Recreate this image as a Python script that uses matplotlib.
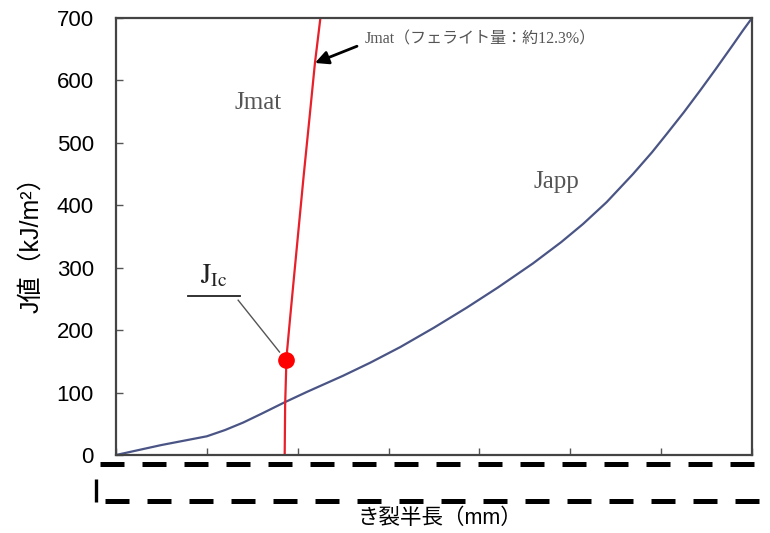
import matplotlib
matplotlib.use("Agg")
import matplotlib.pyplot as plt
from matplotlib.lines import Line2D

# Japp curve (crack half length [mm] vs J [kJ/m2])
a_app = [0, 0.25, 0.5, 0.75, 1.0, 1.2, 1.4, 1.6, 1.85, 2.1, 2.5, 2.8, 3.13, 3.5,
         3.86, 4.2, 4.59, 4.9, 5.14, 5.4, 5.69, 5.9, 6.06, 6.25, 6.43, 6.6,
         6.79, 6.9, 7.0]
j_app = [0, 8, 16, 23, 30, 40, 52, 66, 84, 101, 127, 148, 173, 204,
         236, 268, 307, 341, 370, 405, 450, 485, 514, 549, 584, 618,
         657, 680, 700]

# Jmat curve (ferrite content approx. 12.3%)
a_mat = [1.857, 1.862, 1.877, 1.917, 1.960, 2.015, 2.065, 2.130, 2.19, 2.25]
j_mat = [0, 80, 157, 220, 286, 370, 446, 540, 628, 700]

# JIc point
a_jic = 1.87
j_jic = 153

y_ticks = [0, 100, 200, 300, 400, 500, 600, 700]

plt.rcParams['mathtext.fontset'] = 'stix'
sans = ['Liberation Sans', 'Noto Sans CJK JP']
serif = ['Liberation Serif', 'Noto Sans CJK JP']

fig = plt.figure(figsize=(7.7, 5.33), dpi=100)
ax = fig.add_axes([0.1506, 0.1463, 0.826, 0.8199])

ax.plot(a_app, j_app, color='#4a5585', lw=1.6)
ax.plot(a_mat, j_mat, color='#e8202a', lw=1.6)
ax.plot([a_jic], [j_jic], 'o', color='#ff0000', ms=11, zorder=5)

ax.set_xlim(0, 7)
ax.set_ylim(0, 700)
ax.set_xticks(range(0, 8))
ax.set_xticklabels([])
ax.set_yticks(y_ticks)
ax.set_yticklabels([str(v) for v in y_ticks], family=sans, fontsize=16)
ax.tick_params(direction='in', length=5, width=1, color='#555555', pad=16)
for s in ax.spines.values():
    s.set_color('#444444')
    s.set_linewidth(1.6)

ax.set_ylabel('J値（kJ/m²）', family=sans, fontsize=18)
ax.yaxis.set_label_coords(-0.115, 0.495)
ax.set_xlabel('き裂半長（mm）', family=sans, fontsize=15.5)
ax.xaxis.set_label_coords(0.51, -0.122)

# curve labels
ax.text(1.56, 564, 'Jmat', family=serif, fontsize=18, color='#555555',
        ha='center', va='center')
ax.text(4.85, 438, 'Japp', family=serif, fontsize=18, color='#555555',
        ha='center', va='center')
ax.annotate('Jmat（フェライト量：約12.3%）', xy=(2.19, 628), xytext=(2.74, 665),
            family=serif, fontsize=11.5, color='#555555', va='center', ha='left',
            arrowprops=dict(arrowstyle='-|>', color='black', lw=2,
                            mutation_scale=20, shrinkA=4, shrinkB=0,
                            relpos=(0, 0.3)))

# JIc label with underline and leader
ax.text(1.08, 265, r'$\mathrm{J}_{\mathrm{Ic}}$', fontsize=20, color='#222222',
        ha='center', va='bottom')
ax.plot([0.79, 1.365], [254, 254], color='#222222', lw=1.3)
ax.plot([1.345, 1.8], [248, 165], color='#555555', lw=1)

# masking dashed lines below the axis
fig.add_artist(Line2D([100 / 770, 1.0], [1 - 464 / 533] * 2, color='black',
                      lw=3.6, linestyle=(0, (4.8, 3.6)), solid_capstyle='butt',
                      dash_capstyle='butt'))
fig.add_artist(Line2D([105 / 770, 1.0], [1 - 501 / 533] * 2, color='black',
                      lw=3.6, linestyle=(0, (4.8, 3.6)), solid_capstyle='butt',
                      dash_capstyle='butt'))
fig.add_artist(Line2D([96 / 770] * 2, [1 - 479 / 533, 1 - 502 / 533],
                      color='black', lw=2.4, solid_capstyle='butt'))

fig.savefig('out.png', dpi=100)
